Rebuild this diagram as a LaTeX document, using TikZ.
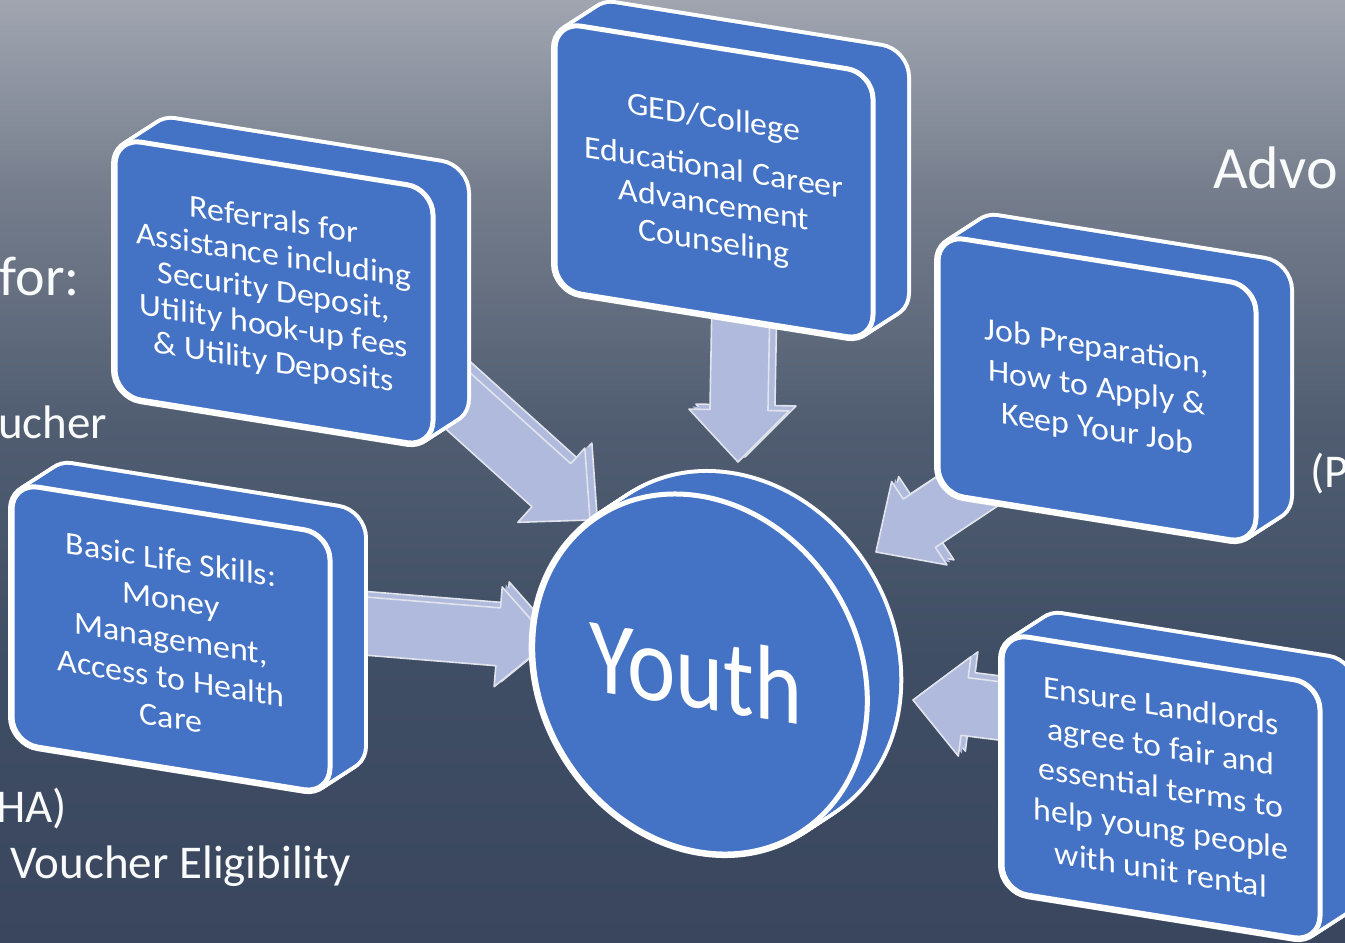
\documentclass[tikz,border=0pt]{standalone}
\usepackage{fontspec}
\setmainfont{Carlito}
\usetikzlibrary{calc}

\definecolor{slabblue}{RGB}{68,114,196}
\definecolor{arrowfill}{RGB}{175,186,220}
\definecolor{arrowedge}{RGB}{225,228,236}
\definecolor{bgtop}{RGB}{160,165,176}
\definecolor{bgupper}{RGB}{118,126,141}
\definecolor{bgmid}{RGB}{80,93,113}
\definecolor{bglow}{RGB}{64,78,101}
\definecolor{bgbot}{RGB}{57,70,94}

% tikz fits the path to the band 25bp--75bp
\pgfdeclareverticalshading{slidebg}{100bp}{color(0bp)=(bgbot); color(25bp)=(bgbot);
  color(40bp)=(bglow); color(52.5bp)=(bgmid); color(65bp)=(bgupper);
  color(75bp)=(bgtop); color(100bp)=(bgtop)}

\tikzset{
  slabface/.style={fill=slabblue, draw=white, line width=5pt, rounded corners=26pt},
  slabrim/.style={draw=white, line width=8pt, rounded corners=26pt},
  slabfill/.style={fill=slabblue, rounded corners=26pt},
  slabtext/.style={text=white, align=center, inner sep=0pt, transform shape, xscale=1.06},
  arrowbody/.style={fill=arrowfill, draw=arrowedge, line width=1.6pt, line join=round},
  bgtext/.style={text=white!94!bgtop, inner sep=0pt, font=\fontsize{47}{52}\selectfont},
}

% points of a block arrow: tail, tip, shift of the copy
\newcommand{\arrowpts}[3]{
  ($(#1)!29pt!90:(#2)+(#3)$) -- ($(#2)!52pt!(#1)!29pt!-90:(#1)+(#3)$)
  -- ($(#2)!52pt!(#1)!50pt!-90:(#1)+(#3)$) -- ($(#2)+(#3)$)
  -- ($(#2)!52pt!(#1)!50pt!90:(#1)+(#3)$) -- ($(#2)!52pt!(#1)!29pt!90:(#1)+(#3)$)
  -- ($(#1)!29pt!-90:(#2)+(#3)$) -- cycle
}
\newcommand{\blockarrow}[2]{
  \path[arrowbody] \arrowpts{#1}{#2}{7,-5};
  \fill[arrowfill] \arrowpts{#1}{#2}{3.5,-2.5};
  \path[arrowbody] \arrowpts{#1}{#2}{0,0};
}

% slab: top left corner, height, name, line skip, text
\newcommand{\slab}[5]{
  \begin{scope}[shift={(#1)}, yslant=-0.16]
    \foreach \st in {0,...,12}
      \draw[slabrim] (2.833*\st,-2.283*\st) rectangle ++(318,#2);
    \foreach \st in {0,...,12}
      \fill[slabfill] (2.833*\st,-2.283*\st) rectangle ++(318,#2);
    \draw[slabface] (0,0) rectangle (318,#2);
    \node[slabtext, font=\fontsize{32}{#4}\selectfont] (#3) at (159,#2/2) {#5};
  \end{scope}
}

\begin{document}
\begin{tikzpicture}[x=1pt, y=-1pt]
    \useasboundingbox (0,0) rectangle (1345,943);
    \clip (0,0) rectangle (1345,943);
    \shade[shading=slidebg] (0,0) rectangle (1345,943);

    % slide text behind the diagram
    \node[bgtext, anchor=base east, font=\fontsize{56}{60}\selectfont] (forTxt) at (80,295) {for:};
    \node[bgtext, anchor=base west] (ucherTxt) at (-2,438) {ucher};
    \node[bgtext, anchor=base west] (haTxt) at (-4,822) {HA)};
    \node[bgtext, anchor=base west] (eligTxt) at (10,878) {Voucher Eligibility};
    \node[bgtext, anchor=base west, font=\fontsize{60}{64}\selectfont] (advoTxt) at (1213,188) {Advo};
    \node[bgtext, anchor=base west] (pTxt) at (1310,487) {(P};

    % arrows
    \coordinate (refOut) at (427,373);
    \coordinate (refIn) at (590,520);
    \coordinate (gedOut) at (741,300);
    \coordinate (gedIn) at (738,462);
    \coordinate (jobOut) at (1025,453);
    \coordinate (jobIn) at (876,552);
    \coordinate (lifeOut) at (340,624);
    \coordinate (lifeIn) at (550,641);
    \coordinate (landOut) at (1040,716);
    \coordinate (landIn) at (913,700);
    \blockarrow{refOut}{refIn}
    \blockarrow{gedOut}{gedIn}
    \blockarrow{jobOut}{jobIn}
    \blockarrow{lifeOut}{lifeIn}
    \blockarrow{landOut}{landIn}

    % centre disc
    \begin{scope}[shift={(700,674)}, yslant=-0.16, xscale=0.94]
        \foreach \st in {0,...,12}
            \draw[white, line width=8pt] (2.833*\st,-2.175*\st) circle (178);
        \foreach \st in {0,...,12}
            \fill[slabblue] (2.833*\st,-2.175*\st) circle (178);
        \draw[fill=slabblue, draw=white, line width=5pt] (0,0) circle (178);
        \node[text=white, inner sep=0pt, font=\fontsize{106}{110}\selectfont, transform shape, xscale=0.92] (youth) at (-4,-2) {Youth};
    \end{scope}

    % the five boxes
    \slab{115,138}{258}{ref}{35.5}{Referrals for\\Assistance including\\Security Deposit,\\Utility hook-up fees\\\& Utility Deposits}
    \slab{555,22}{268}{ged}{37}{GED/College\\[13pt]Educational Career\\Advancement\\Counseling}
    \slab{938,235}{258}{job}{41}{Job Preparation,\\How to Apply \&\\Keep Your Job}
    \slab{12,483}{260}{life}{39.5}{Basic Life Skills:\\Money\\Management,\\Access to Health\\Care}
    \slab{1002,633}{258}{land}{41}{Ensure Landlords\\agree to fair and\\essential terms to\\help young people\\with unit rental}
\end{tikzpicture}
\end{document}
